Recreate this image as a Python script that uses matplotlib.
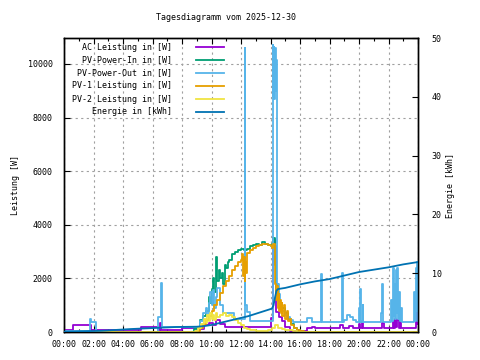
import matplotlib
matplotlib.use("Agg")
import matplotlib.pyplot as plt
from matplotlib.lines import Line2D
import numpy as np

title = "Tagesdiagramm vom 2025-12-30"
x_tick_labels = ["00:00", "02:00", "04:00", "06:00", "08:00", "10:00", "12:00",
                 "14:00", "16:00", "18:00", "20:00", "22:00", "00:00"]

# AC Leistung [W]
ac_t = [0, 0.6, 1.8, 5.2, 6.4, 6.5, 6.6, 8.0, 9.2, 9.5, 9.8, 10.1, 10.3, 10.6, 10.9, 12.2, 12.4,
        14.05, 14.15, 14.2, 14.25, 14.3, 14.35, 14.4, 14.6, 14.75, 15.0, 15.3, 16.5, 16.8, 17.0,
        18.7, 18.9, 19.3, 19.6, 20.0, 20.1, 20.2, 20.3, 21.55, 21.7, 22.3, 22.35, 22.45, 22.5,
        22.6, 22.7, 22.8, 22.85, 23.85, 23.9, 23.95, 24.0]
ac_v = [60, 250, 60, 200, 60, 330, 60, 150, 120, 250, 330, 250, 450, 300, 170, 200, 170,
        520, 3500, 3100, 3450, 3200, 1700, 750, 560, 400, 200, 20, 150, 200, 150,
        250, 150, 230, 150, 300, 150, 400, 150, 350, 150, 400, 150, 500, 200,
        450, 150, 550, 150, 800, 300, 700, 700]

# PV-Power-In [W]
pin_t = [0, 8.8, 9.0, 9.2, 9.4, 9.6, 9.8, 9.9, 10.0, 10.1, 10.2, 10.3, 10.35, 10.5, 10.6, 10.7,
         10.8, 10.9, 11.0, 11.1, 11.2, 11.4, 11.6, 11.8, 12.0, 12.2, 12.4, 12.6, 12.8, 13.0, 13.2,
         13.4, 13.6, 13.8, 14.0, 14.1, 14.2, 14.3, 14.35, 14.4, 14.5, 14.6, 14.8, 15.0, 15.2,
         15.4, 15.6, 15.8, 16.0, 24.0]
pin_v = [0, 100, 200, 450, 600, 800, 1300, 1100, 1600, 2000, 1500, 2800, 1900, 2300, 2000, 2200,
         1800, 2500, 2400, 2600, 2700, 2900, 3000, 3050, 3100, 3050, 3100, 3200, 3250, 3300, 3250,
         3350, 3300, 3250, 3200, 3300, 3500, 2500, 1500, 1800, 1300, 1100, 900, 700, 500,
         300, 150, 60, 0, 0]

# PV-Power-Out [W]
pout_t = [0, 1.75, 1.8, 2.2, 6.4, 6.55, 6.65, 9.0, 9.2, 9.4, 9.6, 9.7, 9.8, 9.9, 10.0, 10.1,
          10.2, 10.3, 10.4, 10.6, 10.8, 11.5, 12.25, 12.3, 12.4, 12.6, 14.15, 14.2, 14.22,
          14.27, 14.3, 14.35, 14.4, 14.45, 14.55, 14.65, 14.8, 14.95, 15.1, 15.3, 15.5, 16.5,
          16.8, 17.45, 17.5, 18.85, 18.9, 19.0, 19.2, 19.4, 19.6, 19.8, 20.0, 20.05, 20.1,
          20.15, 20.25, 20.3, 21.5, 21.55, 21.6, 22.2, 22.25, 22.3, 22.35, 22.4, 22.45, 22.5,
          22.55, 22.6, 22.65, 22.7, 22.75, 22.85, 22.9, 23.75, 23.8, 23.85, 23.9, 23.95, 24.0]
pout_v = [20, 490, 370, 0, 560, 1830, 170, 200, 400, 700, 900, 600, 1100, 1500, 1000, 1570,
          900, 1300, 1650, 1000, 700, 500, 10600, 1000, 750, 420, 10700, 8800, 10650,
          8700, 10600, 9000, 10150, 1800, 1400, 1100, 800, 650, 550, 450, 370, 520,
          370, 2150, 370, 2200, 370, 450, 630, 550, 450, 370, 900, 370, 1600,
          370, 1000, 370, 700, 1800, 370, 1200, 400, 2400, 600, 1800, 500, 2300,
          700, 2400, 500, 1500, 400, 900, 370, 1500, 400, 2400, 800, 2600, 400]

# PV-1 Leistung [W]
pv1_t = [0, 9.0, 9.2, 9.4, 9.6, 9.8, 10.0, 10.2, 10.4, 10.6, 10.8, 11.0, 11.2, 11.4, 11.6, 11.8,
         12.0, 12.1, 12.15, 12.2, 12.25, 12.3, 12.35, 12.4, 12.6, 12.8, 13.0, 13.2, 13.4, 13.6,
         13.8, 14.0, 14.1, 14.2, 14.3, 14.4, 14.45, 14.5, 14.55, 14.6, 14.65, 14.7, 14.75, 14.8,
         14.9, 15.0, 15.1, 15.2, 15.3, 15.4, 15.6, 15.8, 16.0, 16.3, 24.0]
pv1_v = [0, 50, 150, 300, 450, 600, 800, 1000, 1200, 1450, 1700, 1900, 2100, 2300, 2450, 2600,
         2700, 2900, 2100, 2800, 1900, 2600, 2200, 2950, 3050, 3150, 3200, 3250, 3300, 3300,
         3250, 3200, 3150, 3300, 1800, 1200, 1700, 900, 1400, 800, 1200, 700, 1100, 600,
         1000, 500, 800, 400, 500, 250, 150, 80, 40, 0, 0]

# PV-2 Leistung [W]
pv2_t = [0, 8.9, 9.1, 9.3, 9.5, 9.6, 9.7, 9.8, 9.9, 10.0, 10.1, 10.2, 10.3, 10.4, 10.6, 10.8,
         11.0, 11.2, 11.4, 11.6, 11.8, 12.0, 12.2, 12.4, 12.6, 13.0, 13.8, 14.1, 14.3, 14.5,
         14.8, 15.0, 15.5, 15.8, 24.0]
pv2_v = [0, 50, 150, 300, 500, 350, 650, 400, 700, 500, 650, 450, 700, 550, 650, 700,
         600, 650, 550, 450, 350, 250, 150, 100, 60, 40, 60, 150, 250, 150,
         100, 60, 20, 0, 0]

# Energie [kWh]
en_t = [0, 2.5, 4.5, 7.6, 9.0, 9.5, 10.0, 10.5, 11.0, 11.5, 12.0, 12.5, 13.0, 13.5, 14.0, 14.1,
        14.2, 14.3, 14.4, 14.5, 15.0, 16.0, 17.0, 18.0, 19.0, 20.0, 21.0, 22.0, 23.0, 24.0]
en_v = [0.05, 0.2, 0.5, 0.85, 0.9, 1.0, 1.2, 1.5, 1.8, 2.1, 2.4, 2.7, 3.1, 3.5, 3.9, 4.0,
        4.5, 5.8, 7.0, 7.3, 7.5, 8.1, 8.6, 9.0, 9.6, 10.2, 10.6, 11.0, 11.5, 11.9]

FONT = "DejaVu Sans Mono"
FS = 6

fig = plt.figure(figsize=(4.8, 3.6), dpi=100)
ax = fig.add_axes([64/480, 1-332/360, 354/480, 294/360])
ax2 = ax.twinx()

lw = 1.3
series = [
    (ac_t, ac_v, "#9400d3", "AC Leistung in [W]", ax, "steps-post"),
    (pin_t, pin_v, "#009e73", "PV-Power-In in [W]", ax, "steps-post"),
    (pout_t, pout_v, "#56b4e9", "PV-Power-Out in [W]", ax, "steps-post"),
    (pv1_t, pv1_v, "#e69f00", "PV-1 Leistung in [W]", ax, "steps-post"),
    (pv2_t, pv2_v, "#f0e442", "PV-2 Leistung in [W]", ax, "steps-post"),
    (en_t, en_v, "#0072b2", "Energie in [kWh]", ax2, "default"),
]
for t, v, c, lab, a, ds in series:
    a.plot(t, v, color=c, lw=lw, drawstyle=ds, zorder=3)

ax.set_xlim(0, 24)
ax.set_ylim(0, 10970)
ax2.set_ylim(0, 50)

ax.set_xticks(np.arange(0, 25, 2))
ax.set_xticklabels(x_tick_labels, fontfamily=FONT, fontsize=FS)
ax.set_xticks(np.arange(1, 24, 2), minor=True)
ax.set_yticks(np.arange(0, 10001, 2000))
ax.set_yticklabels([str(v) for v in range(0, 10001, 2000)], fontfamily=FONT, fontsize=FS)
ax2.set_yticks(np.arange(0, 51, 10))
ax2.set_yticklabels([str(v) for v in range(0, 51, 10)], fontfamily=FONT, fontsize=FS)

ax.tick_params(axis="x", which="major", direction="in", length=4, width=0.8, top=True, pad=6)
ax.tick_params(axis="x", which="minor", direction="in", length=2, width=0.8, top=True)
ax.tick_params(axis="y", which="major", direction="in", length=4, width=0.8, right=False, pad=8)
ax2.tick_params(axis="y", direction="in", length=4, width=0.8, pad=10)

ax.grid(True, which="major", color="#a0a0a0", linestyle=(0, (2, 3)), lw=0.8)
ax.set_axisbelow(True)

for a in (ax, ax2):
    for s in a.spines.values():
        s.set_linewidth(1.0)
        s.set_color("black")

ax.set_ylabel("Leistung [W]", fontfamily=FONT, fontsize=FS, labelpad=6)
ax2.set_ylabel("Energie [kWh]", fontfamily=FONT, fontsize=FS, labelpad=3)
fig.text(226/480, 1-18/360, title, ha="center", va="center", fontfamily=FONT, fontsize=FS)

# legend (gnuplot style: right-aligned text, sample after)
for i, (t, v, c, lab, a, ds) in enumerate(series):
    yy = (332 - 47 - 13*i) / 294
    ax.text((172-64)/354, yy, lab, transform=ax.transAxes, ha="right", va="center",
            fontfamily=FONT, fontsize=FS, zorder=5)
    ax.add_line(Line2D([(196-64)/354, (224-64)/354], [yy, yy], transform=ax.transAxes,
                       color=c, lw=lw, zorder=5))

fig.savefig("out.png", dpi=100)
